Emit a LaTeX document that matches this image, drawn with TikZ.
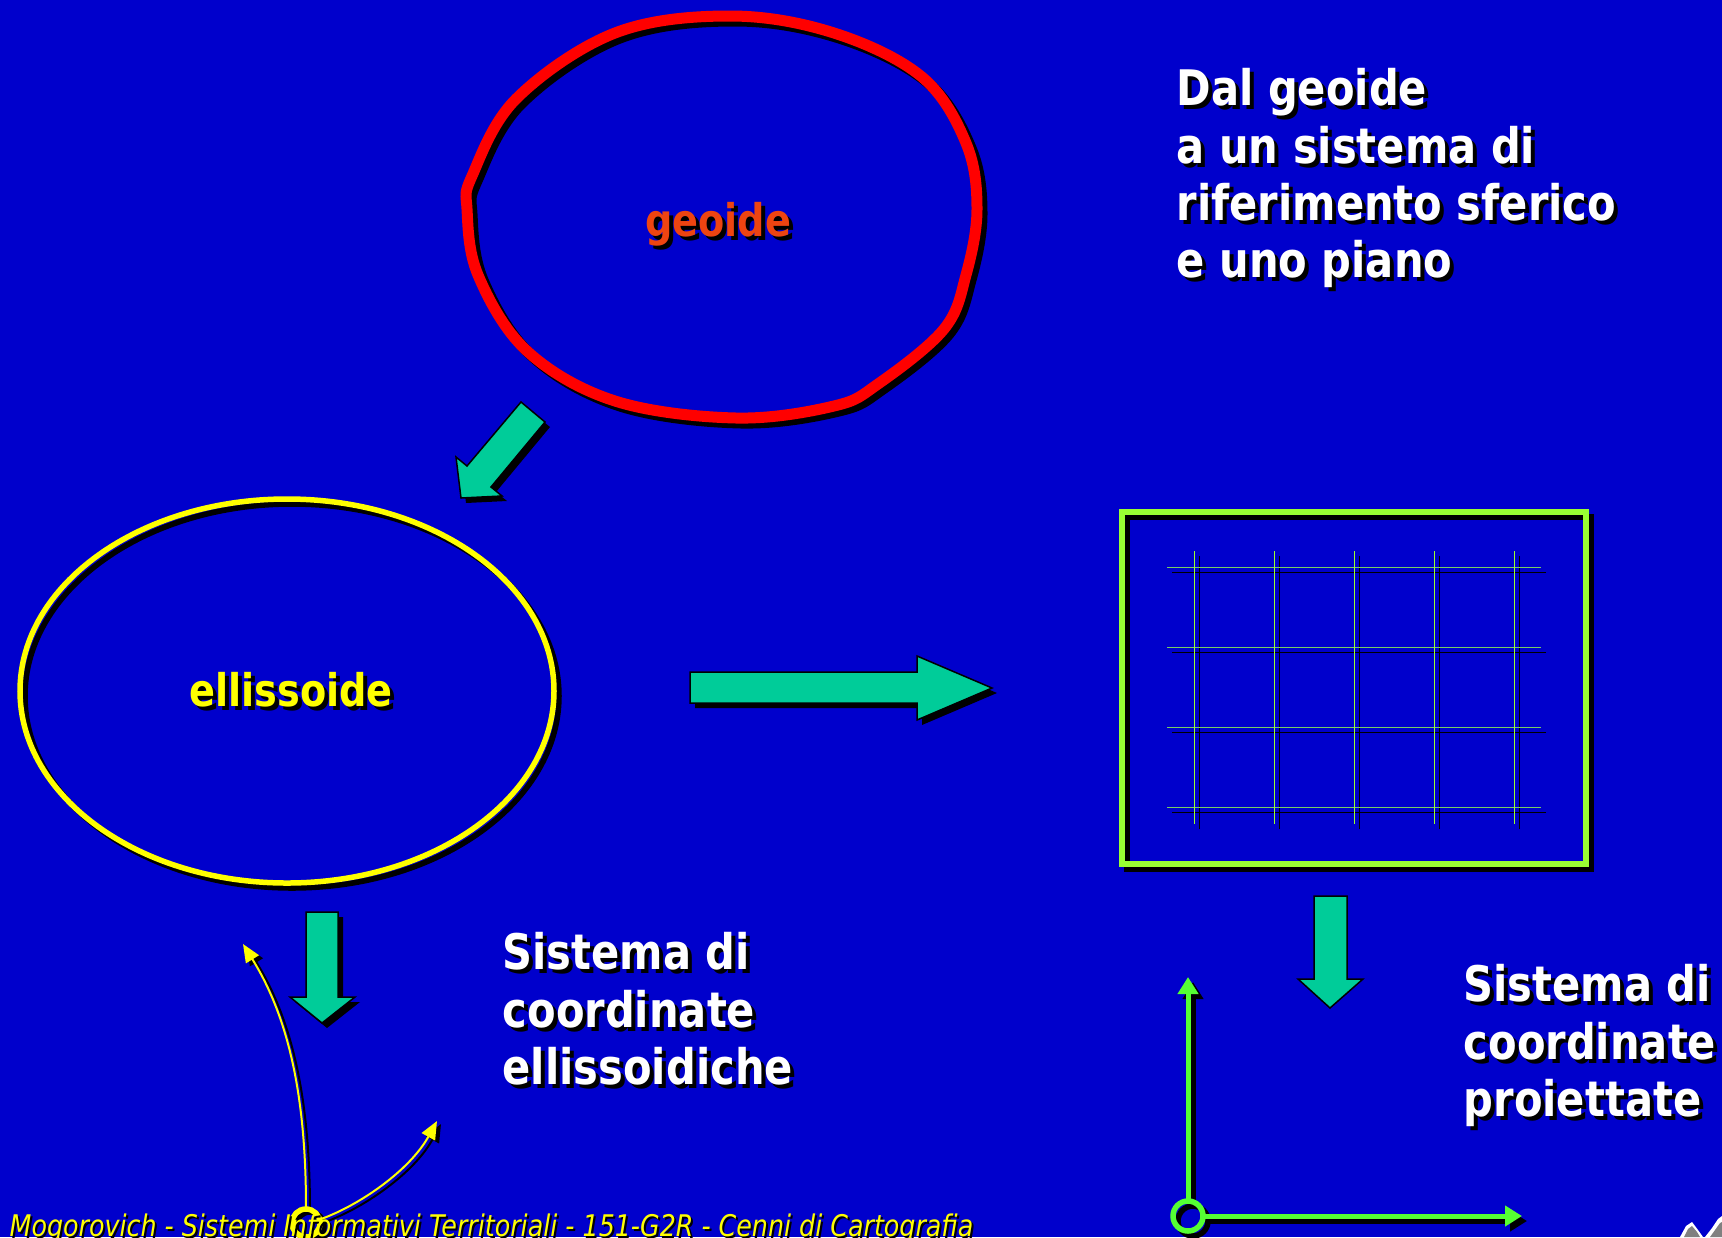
\documentclass[tikz,border=0pt]{standalone}
\usepackage{fontspec}
\usetikzlibrary{arrows.meta}
\newfontfamily\cs[FakeStretch=0.85]{DejaVu Sans}
\definecolor{bg}{HTML}{0000CC}
\definecolor{teal}{HTML}{00CC99}
\definecolor{geored}{HTML}{FF0000}
\definecolor{geotext}{HTML}{EE4411}
\definecolor{yel}{HTML}{FFFF00}
\definecolor{lime}{HTML}{99FF33}
\definecolor{axgreen}{HTML}{55FF33}
\definecolor{gridh}{HTML}{77CC66}
\tikzset{
  blk/.style={fill=teal, draw=black, line width=0.15mm, line join=miter},
  blksh/.style={fill=black},
  bigtxt/.style={font=\cs\bfseries\fontsize{13.94pt}{16.3pt}\selectfont, align=left, inner sep=0pt, anchor=north west},
  lbltxt/.style={font=\cs\bfseries\fontsize{12.8pt}{15pt}\selectfont, inner sep=0pt, anchor=base},
  foot/.style={font=\cs\itshape\fontsize{8.48pt}{10pt}\selectfont, inner sep=0pt, anchor=base west},
}
\newcommand\geoshape{plot[smooth cycle, tension=0.6] coordinates {(472,176) (516,99) (615,33) (730,16) (834,33) (922,77) (966,143) (977,209) (966,275) (944,329) (878,384) (834,406) (736,418) (615,401) (527,351) (478,275) (467,209)}}
\newcommand\gridlines{%
  \foreach \yy in {567.7,647.7,727.7,807.7} {\draw (1167,\yy) -- (1541,\yy);}
}
\newcommand\gridverts{%
  \foreach \xx in {1194.3,1274.3,1354.3,1434.3,1514.3} {\draw (\xx,551) -- (\xx,824);}
}
\begin{document}
\begin{tikzpicture}[x=0.1mm,y=-0.1mm]
\useasboundingbox (0,0) rectangle (1722,1237);
\fill[bg] (0,0) rectangle (1722,1237);

% geoide outline
\draw[black, line width=1.1mm, shift={(5,5)}] \geoshape;
\draw[geored, line width=1.1mm] \geoshape;
\node[lbltxt, text=black] (tgeos) at (722,240.5) {geoide};
\node[lbltxt, text=geotext] (tgeo) at (718,236.5) {geoide};

% ellipse
\draw[black, line width=0.55mm] (292,696) ellipse [x radius=267, y radius=192];
\draw[yel, line width=0.55mm] (287,691) ellipse [x radius=267, y radius=192];
\node[lbltxt, text=black] (tells) at (295,710.5) {ellissoide};
\node[lbltxt, text=yel] (tell) at (291,706.5) {ellissoide};

% block arrows
\begin{scope}[shift={(5,5)}]
\fill[blksh] (521,402) -- (467,466) -- (456,457) -- (461,498) -- (502,496) -- (491,487) -- (545,422) -- cycle;
\fill[blksh] (690,672) -- (917,672) -- (917,656) -- (992,688) -- (917,720) -- (917,703) -- (690,703) -- cycle;
\fill[blksh] (306,912) -- (338,912) -- (338,997) -- (355,997) -- (322,1023) -- (290,997) -- (306,997) -- cycle;
\end{scope}
\draw[blk] (521,402) -- (467,466) -- (456,457) -- (461,498) -- (502,496) -- (491,487) -- (545,422) -- cycle;
\draw[blk] (690,672) -- (917,672) -- (917,656) -- (992,688) -- (917,720) -- (917,703) -- (690,703) -- cycle;
\draw[blk] (306,912) -- (338,912) -- (338,997) -- (355,997) -- (322,1023) -- (290,997) -- (306,997) -- cycle;
\draw[blk] (1314,896) -- (1347,896) -- (1347,979) -- (1363,979) -- (1330,1008) -- (1298,979) -- (1314,979) -- cycle;

% projected map frame and grid
\begin{scope}[shift={(5,5)}, black]
\draw[line width=0.6mm] (1122.3,512.2) rectangle (1586.3,863.8);
\begin{scope}[line width=0.15mm]\gridlines\gridverts\end{scope}
\end{scope}
\begin{scope}[line width=0.15mm]
\begin{scope}[gridh]\gridlines\end{scope}
\begin{scope}[lime]\gridverts\end{scope}
\end{scope}
\draw[lime, line width=0.6mm] (1122.3,512.2) rectangle (1586.3,863.8);

% texts
\node[bigtxt, text=black] (t1s) at (1180,72) {Dal geoide\\a un sistema di\\riferimento sferico\\e uno piano};
\node[bigtxt, text=white] (t1) at (1176,68) {Dal geoide\\a un sistema di\\riferimento sferico\\e uno piano};
\node[bigtxt, text=black] (t2s) at (506,936) {Sistema di\\coordinate\\ellissoidiche};
\node[bigtxt, text=white] (t2) at (502,932) {Sistema di\\coordinate\\ellissoidiche};
\node[bigtxt, text=black] (t3s) at (1467,968) {Sistema di\\coordinate\\proiettate};
\node[bigtxt, text=white] (t3) at (1463,964) {Sistema di\\coordinate\\proiettate};

% ellipsoidal coordinate axes (yellow)
\coordinate (yo) at (306,1223);
\coordinate (ya) at (306,1208);
\coordinate (yb) at (321,1219);
\coordinate (yt1) at (243,944);
\coordinate (yt2) at (437,1121);
\begin{scope}[transform canvas={shift={(0.4mm,-0.3mm)}}]
\draw[black, line width=0.2mm, -{Triangle[length=1.8mm,width=1.5mm]}] (ya) .. controls (306,1100) and (290,1020) .. (yt1);
\draw[black, line width=0.2mm, -{Triangle[length=1.8mm,width=1.5mm]}] (yb) .. controls (360,1205) and (410,1170) .. (yt2);
\draw[black, line width=0.55mm] (yo) circle[radius=14];
\end{scope}
\draw[yel, line width=0.2mm, -{Triangle[length=1.8mm,width=1.5mm]}] (ya) .. controls (306,1100) and (290,1020) .. (yt1);
\draw[yel, line width=0.2mm, -{Triangle[length=1.8mm,width=1.5mm]}] (yb) .. controls (360,1205) and (410,1170) .. (yt2);
\draw[yel, line width=0.55mm] (yo) circle[radius=14];

% projected coordinate axes (green)
\coordinate (go) at (1188,1216);
\coordinate (gu) at (1188,1199);
\coordinate (gr) at (1205,1216);
\coordinate (gy) at (1188,977);
\coordinate (gx) at (1522,1216);
\begin{scope}[transform canvas={shift={(0.5mm,-0.5mm)}}]
\draw[black, line width=0.5mm, -{Triangle[length=1.7mm,width=2mm]}] (gu) -- (gy);
\draw[black, line width=0.5mm, -{Triangle[length=1.7mm,width=2mm]}] (gr) -- (gx);
\draw[black, line width=0.55mm] (go) circle[radius=15];
\end{scope}
\draw[axgreen, line width=0.5mm, -{Triangle[length=1.7mm,width=2mm]}] (gu) -- (gy);
\draw[axgreen, line width=0.5mm, -{Triangle[length=1.7mm,width=2mm]}] (gr) -- (gx);
\draw[axgreen, line width=0.55mm] (go) circle[radius=15];

% footer
\node[foot, text=black] (fts) at (11,1238) {Mogorovich - Sistemi Informativi Territoriali - 151-G2R - Cenni di Cartografia};
\node[foot, text=yel] (ft) at (9,1236) {Mogorovich - Sistemi Informativi Territoriali - 151-G2R - Cenni di Cartografia};

% logo fragment
\fill[white] (1680,1237) -- (1686,1226) -- (1692,1222) -- (1698,1230) -- (1703,1237) -- cycle;
\fill[gray] (1684,1237) -- (1688,1229) -- (1692,1226) -- (1697,1232) -- (1700,1237) -- cycle;
\fill[white] (1705,1237) -- (1712,1228) -- (1718,1219) -- (1722,1216) -- (1722,1237) -- cycle;
\fill[gray] (1710,1237) -- (1715,1230) -- (1720,1223) -- (1722,1222) -- (1722,1237) -- cycle;
\end{tikzpicture}
\end{document}
